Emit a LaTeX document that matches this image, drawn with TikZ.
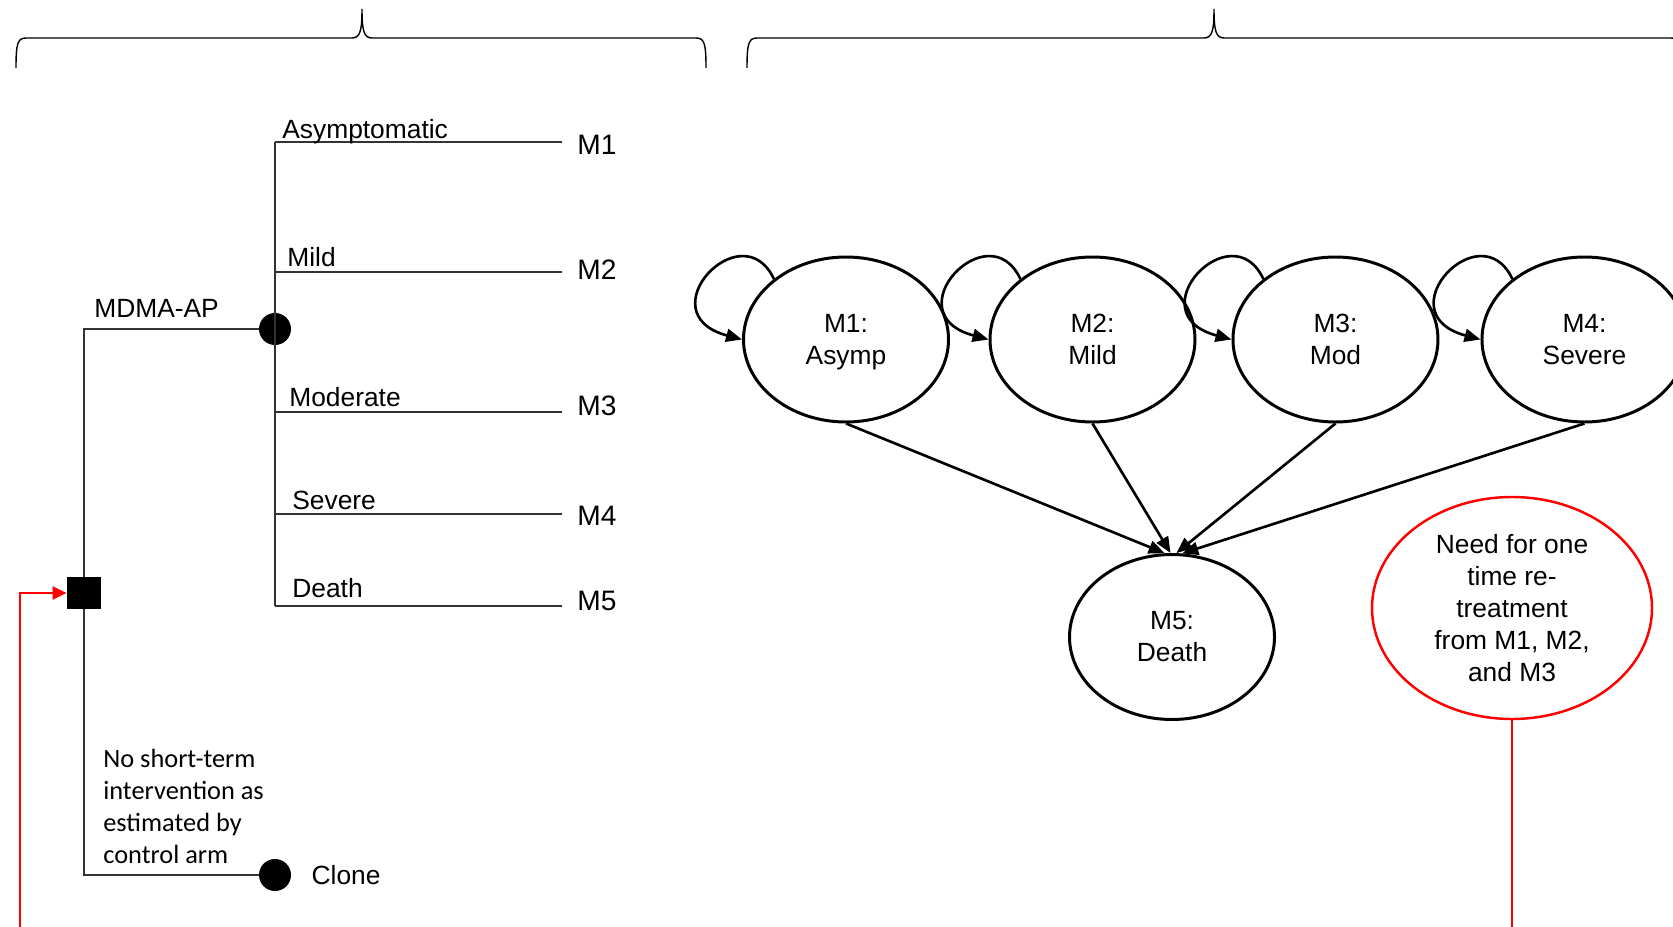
\documentclass[tikz,border=0pt]{standalone}
\usepackage{fontspec}
\setmainfont{Liberation Sans}
\newfontfamily\calibri{Carlito}
\usepackage{tikz}
\usetikzlibrary{arrows.meta,positioning,shapes.geometric}
% top brace: left end, tip, right end
\newcommand{\phasebrace}[3]{%
  \draw[bracket] (#1,-1.36) .. controls (#1,-0.88) and (#1+0.03,-0.76) .. (#1+0.2,-0.76)
    -- (#2-0.2,-0.76) .. controls (#2-0.04,-0.76) and (#2,-0.62) .. (#2,-0.18)
    .. controls (#2,-0.62) and (#2+0.04,-0.76) .. (#2+0.2,-0.76)
    -- (#3-0.2,-0.76) .. controls (#3-0.03,-0.76) and (#3,-0.88) .. (#3,-1.36);}

\begin{document}
\begin{tikzpicture}[node distance=0.77cm,
    >={Triangle[length=0.32cm,width=0.26cm]},
    bracket/.style={line width=0.8pt},
    treeline/.style={draw=black!80,line width=0.65pt},
    chance/.style={circle,fill=black,minimum size=0.64cm,inner sep=0pt},
    decision/.style={rectangle,fill=black,minimum width=0.68cm,minimum height=0.64cm,inner sep=0pt},
    treetxt/.style={font=\fontsize{15}{18}\selectfont,inner sep=0pt},
    outtxt/.style={font=\fontsize{16}{19}\selectfont,inner sep=0pt},
    state/.style={draw,ellipse,line width=1.7pt,minimum width=4.1cm,minimum height=3.3cm,
      inner sep=0pt,align=center,font=\fontsize{15}{18.2}\selectfont},
    flow/.style={->,line width=1.5pt},
    redflow/.style={draw=red,line width=1.5pt}]
  \useasboundingbox (0,0) rectangle (33.46,-18.54);
  \clip (0,0) rectangle (33.46,-18.54);

  \phasebrace{0.32}{7.24}{14.12}
  \phasebrace{14.94}{24.28}{33.62}

  % decision tree
  \node[decision] (dec) at (1.68,-11.86) {};
  \node[chance] (ch) at (5.50,-6.58) {};
  \node[chance] (clone) at (5.50,-17.50) {};
  \draw[treeline] (dec) |- (ch);
  \draw[treeline] (dec) |- (clone);
  \node[treetxt,anchor=base west] (mdma) at (1.88,-6.35) {MDMA-AP};
  \node[treetxt,right=0.4cm of clone] (clonetxt) {Clone};
  \node[treetxt,font=\calibri\fontsize{15}{18.3}\selectfont,align=left,anchor=base west]
    (noint) at (2.06,-17.27) {No short-term\\intervention as\\estimated by\\control arm};

  \foreach \y/\lbl/\m/\dx/\ly/\my [count=\i] in {-2.84/Asymptomatic/M1/0.14/0.07/-0.06,
      -5.44/Mild/M2/0.24/0.11/0.04,-8.24/Moderate/M3/0.28/0.12/0.13,
      -10.28/Severe/M4/0.34/0.09/-0.04,-12.12/Death/M5/0.34/0.17/0.1}{
    \coordinate (br\i) at (5.50,\y);
    \coordinate (end\i) at (11.24,\y);
    \draw[treeline] (br\i) -- (end\i);
    \node[treetxt,anchor=base west] (lbl\i) at ([xshift=\dx cm,yshift=\ly cm]br\i) {\lbl};
    \node[outtxt,right=0.3cm of end\i,yshift=\my cm] (out\i) {\m};
  }
  \draw[treeline] (br1) -- (br5);

  % Markov states
  \node[state] (m1) at (16.92,-6.79) {M1:\\\smash{Asymp}};
  \node[state,right=of m1] (m2) {M2:\\Mild};
  \node[state,right=0.7cm of m2] (m3) {M3:\\Mod};
  \node[state,right=0.82cm of m3] (m4) {M4:\\Severe};
  \node[state] (m5) at (23.44,-12.74) {M5:\\Death};
  \node[state,draw=red,line width=1.4pt,minimum width=5.6cm,minimum height=4.44cm]
    (need) at (30.24,-12.16) {Need for one\\time re-\\treatment\\from M1, M2,\\and M3};

  \foreach \s/\a in {m1/95,m2/91,m3/87,m4/83}{
    \draw[flow] (\s.140) .. controls +(115:1.5) and +(165:2) .. (\s.west);
    \draw[flow] (\s.south) -- (m5.\a);
  }

  % retreatment loop back to the decision node
  \coordinate (loopin) at (0.40,-18.54);
  \coordinate (needout) at (need.south |- loopin);
  \draw[redflow] (need.south) -- (needout);
  \draw[redflow,-{Triangle[length=0.28cm,width=0.26cm]}] (loopin) |- (dec.west);
\end{tikzpicture}
\end{document}
